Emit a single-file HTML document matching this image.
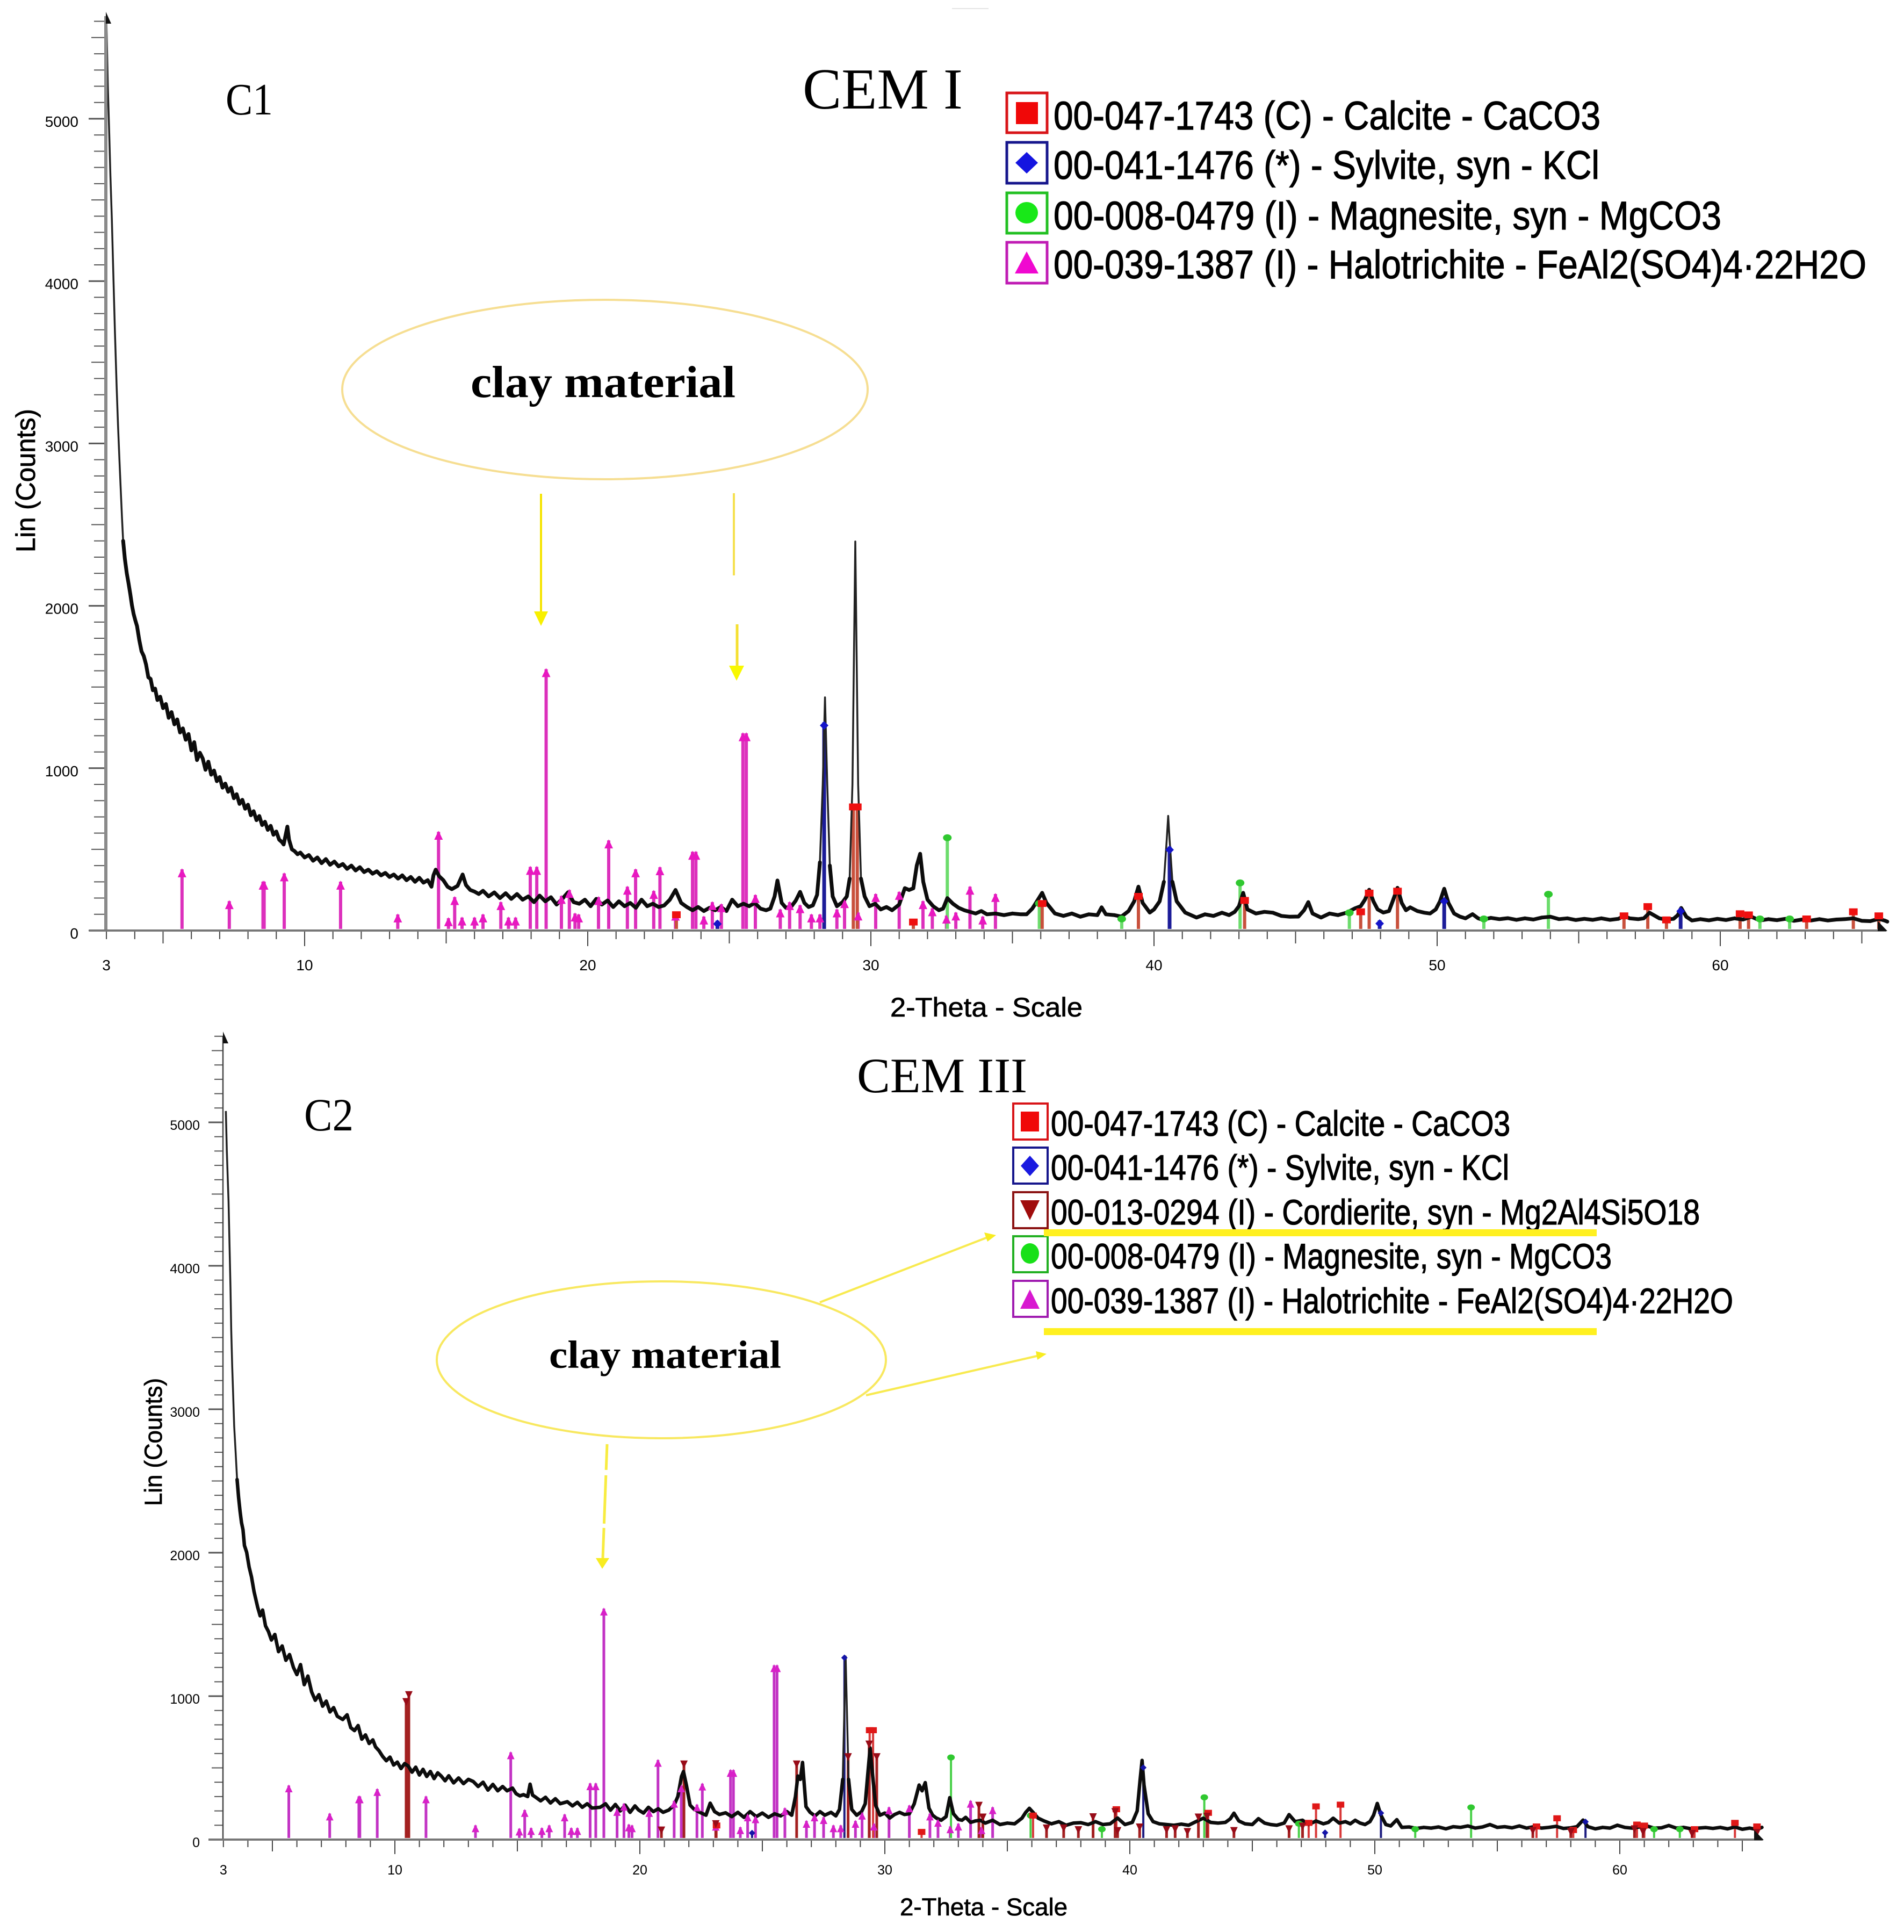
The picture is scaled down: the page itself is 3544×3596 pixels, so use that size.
<!DOCTYPE html>
<html lang="en">
<head>
<meta charset="utf-8">
<title>XRD patterns CEM I and CEM III</title>
<style>
html,body{margin:0;padding:0;background:#fff;}
svg{display:block;}
text{font-family:"Liberation Sans",sans-serif;fill:#000;}
.serif{font-family:"Liberation Serif",serif;}
.heavy{stroke:#000;stroke-width:1.3px;}
</style>
</head>
<body>
<svg id="figure" xmlns="http://www.w3.org/2000/svg" width="3544" height="3596" viewBox="0 0 3544 3596">
  <rect x="0" y="0" width="3544" height="3596" fill="#ffffff"/>
  <line x1="1772" y1="16" x2="1840" y2="16" stroke="#e4e4e4" stroke-width="2"/>

  <g id="chart1"></g>
  <g id="chart2"></g>

  <!-- Chart 1 annotations -->
  <text class="serif" x="420" y="213" font-size="84" textLength="88" lengthAdjust="spacingAndGlyphs">C1</text>
  <text class="serif" x="1494" y="202" font-size="108" textLength="298" lengthAdjust="spacingAndGlyphs">CEM I</text>

  <g>
    <g>
      <rect x="1874" y="173" width="75" height="74" fill="none" stroke="#d81418" stroke-width="5"/>
      <rect x="1891" y="190" width="41" height="41" fill="#f00808"/>
      <text class="heavy" x="1961" y="241" font-size="74" textLength="1018" lengthAdjust="spacingAndGlyphs">00-047-1743 (C) - Calcite - CaCO3</text>
    </g>
    <g>
      <rect x="1874" y="265" width="75" height="76" fill="none" stroke="#16168c" stroke-width="5"/>
      <polygon points="1911,283 1932,303 1911,323 1890,303" fill="#1414e0"/>
      <text class="heavy" x="1961" y="333" font-size="74" textLength="1016" lengthAdjust="spacingAndGlyphs">00-041-1476 (*) - Sylvite, syn - KCl</text>
    </g>
    <g>
      <rect x="1874" y="359" width="75" height="75" fill="none" stroke="#22c022" stroke-width="5"/>
      <ellipse cx="1911" cy="396" rx="21" ry="20" fill="#18e818"/>
      <text class="heavy" x="1961" y="427" font-size="74" textLength="1243" lengthAdjust="spacingAndGlyphs">00-008-0479 (I) - Magnesite, syn - MgCO3</text>
    </g>
    <g>
      <rect x="1874" y="451" width="75" height="76" fill="none" stroke="#c01cb4" stroke-width="5"/>
      <polygon points="1911,468 1933,509 1889,509" fill="#f008d0"/>
      <text class="heavy" x="1961" y="518" font-size="74" textLength="1513" lengthAdjust="spacingAndGlyphs">00-039-1387 (I) - Halotrichite - FeAl2(SO4)4·22H2O</text>
    </g>
  </g>

  <g>
    <ellipse cx="1126" cy="725" rx="489" ry="167" fill="none" stroke="#f6de92" stroke-width="4"/>
    <text class="serif" x="876" y="739" font-size="84" font-weight="bold" textLength="493" lengthAdjust="spacingAndGlyphs">clay material</text>
    <line x1="1007" y1="919" x2="1007" y2="1140" stroke="#f5e400" stroke-width="4"/>
    <polygon points="994,1138 1020,1138 1007,1165" fill="#f8f000"/>
    <line x1="1366" y1="918" x2="1366" y2="1071" stroke="#f5e050" stroke-width="4"/>
    <line x1="1372" y1="1162" x2="1372" y2="1241" stroke="#f5e030" stroke-width="5"/>
    <polygon points="1357,1239 1385,1239 1371,1267" fill="#f8f800"/>
  </g>

  <!-- Chart 2 annotations -->
  <text class="serif" x="566" y="2104" font-size="86" textLength="92" lengthAdjust="spacingAndGlyphs">C2</text>
  <text class="serif" x="1595" y="2033" font-size="92" textLength="317" lengthAdjust="spacingAndGlyphs">CEM III</text>

  <g>
    <g>
      <rect x="1886" y="2054" width="64" height="67" fill="none" stroke="#d81418" stroke-width="4"/>
      <rect x="1900" y="2069" width="34" height="37" fill="#f00808"/>
      <text class="heavy" x="1956" y="2114" font-size="66" textLength="855" lengthAdjust="spacingAndGlyphs">00-047-1743 (C) - Calcite - CaCO3</text>
    </g>
    <g>
      <rect x="1886" y="2136" width="64" height="67" fill="none" stroke="#16168c" stroke-width="4"/>
      <polygon points="1917,2151 1934,2170 1917,2189 1900,2170" fill="#1a1ae0"/>
      <text class="heavy" x="1956" y="2196" font-size="66" textLength="853" lengthAdjust="spacingAndGlyphs">00-041-1476 (*) - Sylvite, syn - KCl</text>
    </g>
    <g>
      <rect x="1886" y="2219" width="64" height="67" fill="none" stroke="#8c1414" stroke-width="4"/>
      <polygon points="1899,2234 1935,2234 1917,2271" fill="#a00c0c"/>
      <text class="heavy" x="1956" y="2279" font-size="66" textLength="1208" lengthAdjust="spacingAndGlyphs">00-013-0294 (I) - Cordierite, syn - Mg2Al4Si5O18</text>
    </g>
    <g>
      <rect x="1886" y="2301" width="64" height="67" fill="none" stroke="#22b022" stroke-width="4"/>
      <ellipse cx="1917" cy="2333" rx="17" ry="19" fill="#18e018"/>
      <text class="heavy" x="1956" y="2361" font-size="66" textLength="1044" lengthAdjust="spacingAndGlyphs">00-008-0479 (I) - Magnesite, syn - MgCO3</text>
    </g>
    <g>
      <rect x="1886" y="2384" width="64" height="67" fill="none" stroke="#a01cb0" stroke-width="4"/>
      <polygon points="1917,2400 1935,2436 1899,2436" fill="#d818d0"/>
      <text class="heavy" x="1956" y="2444" font-size="66" textLength="1270" lengthAdjust="spacingAndGlyphs">00-039-1387 (I) - Halotrichite - FeAl2(SO4)4·22H2O</text>
    </g>
  </g>
  <rect x="1943" y="2288" width="1029" height="13" fill="#fff020"/>
  <rect x="1943" y="2472" width="1029" height="13" fill="#fff020"/>

  <g>
    <ellipse cx="1231" cy="2531" rx="418" ry="146" fill="none" stroke="#f8e860" stroke-width="4"/>
    <text class="serif" x="1022" y="2546" font-size="73" font-weight="bold" textLength="432" lengthAdjust="spacingAndGlyphs">clay material</text>
    <line x1="1526" y1="2424" x2="1838" y2="2303" stroke="#f8ea50" stroke-width="4"/>
    <polygon points="1854,2299 1832,2294 1838,2311" fill="#f8ec20"/>
    <line x1="1612" y1="2597" x2="1934" y2="2523" stroke="#f8ea50" stroke-width="4"/>
    <polygon points="1948,2520 1928,2515 1931,2531" fill="#f8ec20"/>
    <line x1="1130" y1="2688" x2="1122" y2="2900" stroke="#f8ec40" stroke-width="5" stroke-dasharray="48 10 90 8 60 6"/>
    <polygon points="1109,2900 1134,2900 1121,2920" fill="#f8ec20"/>
  </g>
</svg>

<script>
// ---- Shared axis labels ----
const xTickLabels = [3, 10, 20, 30, 40, 50, 60];
const yTickLabels = [0, 1000, 2000, 3000, 4000, 5000];

// ---- Reference-card sticks (2-theta, counts) ----
const halotrichiteTheta = [5.67,7.34,8.53,8.57,9.28,11.27,13.29,14.73,15.08,15.3,15.56,16.0,16.3,16.93,17.2,17.45,17.97,18.2,18.53,19.07,19.35,19.55,19.68,20.38,20.74,21.4,21.69,22.33,22.55,23.1,23.7,23.82,24.1,24.4,24.72,25.48,25.6,25.92,26.8,27.13,27.5,27.9,28.2,28.8,29.07,29.55,30.17,31.0,31.84,32.17,32.67,33.0,33.5,33.95,34.4];
const halotrichiteCounts = [377,181,301,301,352,301,99,608,76,206,80,80,99,175,80,80,392,392,1610,213,250,105,99,206,555,270,377,244,390,110,485,485,86,175,162,1215,1215,219,130,175,156,99,99,130,187,111,225,238,181,137,92,111,270,86,225];

const calciteTheta = [23.13,29.38,29.52,31.5,36.05,39.45,43.2,47.3,47.6,48.6,56.6,57.44,58.1,60.7,61.0,63.05,64.7,65.6];
const calciteCounts = [112,776,776,67,181,225,200,130,245,257,105,162,80,118,111,86,130,105];

const sylviteTheta = [24.58,28.35,40.55,47.97,50.25,58.6];
const sylviteCounts = [61,1283,517,63,200,139];

const magnesiteTheta = [32.7,35.95,38.86,43.04,46.9,51.65,53.93,61.4,62.45];
const magnesiteCounts = [586,181,86,308,124,86,238,86,86];

const cordieriteTheta = [10.46,10.57,20.88,21.8,23.1,26.4,28.5,29.36,29.67,33.84,34.0,36.6,37.3,37.9,38.5,39.4,39.5,40.4,41.5,41.85,42.35,42.8,43.15,44.25,46.5,47.05,56.45,58.0,60.6,60.95,62.95,65.6];
const cordieriteCounts = [979,1027,84,544,128,544,595,683,595,256,174,98,98,86,176,212,80,105,86,92,73,174,180,80,92,111,80,73,92,73,60,67];

// ---- Measured pattern CEM I ----
const cem1Theta = [
3.00,3.05,3.10,3.14,3.19,3.25,3.30,3.36,3.41,3.46,
3.50,3.55,3.59,3.65,3.72,3.78,3.84,3.90,3.96,4.02,
4.08,4.16,4.24,4.32,4.40,4.48,4.56,4.64,4.72,4.80,
4.90,5.00,5.10,5.20,5.30,5.40,5.50,5.60,5.70,5.80,
5.90,6.00,6.10,6.20,6.30,6.40,6.50,6.60,6.70,6.80,
6.90,7.00,7.10,7.20,7.30,7.40,7.50,7.60,7.70,7.80,
7.90,8.00,8.10,8.20,8.30,8.40,8.50,8.60,8.70,8.80,
8.90,9.00,9.10,9.20,9.26,9.39,9.45,9.55,9.64,9.75,
9.85,10.0,10.15,10.3,10.45,10.6,10.75,10.9,11.05,11.2,
11.35,11.5,11.65,11.8,11.95,12.1,12.25,12.4,12.55,12.7,
12.85,13.0,13.15,13.3,13.45,13.6,13.75,13.9,14.05,14.2,
14.35,14.48,14.55,14.63,14.75,14.9,15.05,15.2,15.4,15.58,
15.7,15.85,16.0,16.15,16.3,16.5,16.7,16.9,17.1,17.3,
17.5,17.7,17.9,18.1,18.3,18.5,18.7,18.9,19.1,19.3,
19.5,19.7,19.9,20.1,20.3,20.5,20.7,20.9,21.1,21.3,
21.5,21.7,21.9,22.1,22.3,22.5,22.7,22.9,23.1,23.3,
23.5,23.7,23.9,24.1,24.3,24.5,24.7,24.9,25.1,25.3,
25.5,25.7,25.9,26.1,26.3,26.45,26.6,26.7,26.85,27.0,
27.2,27.35,27.5,27.65,27.8,27.95,28.1,28.2,28.3,28.38,
28.46,28.55,28.65,28.8,29.0,29.15,29.25,29.35,29.45,29.55,
29.65,29.78,29.95,30.15,30.35,30.55,30.75,31.0,31.2,31.35,
31.5,31.62,31.74,31.85,32.0,32.2,32.4,32.55,32.7,32.9,
33.1,33.3,33.5,33.7,33.9,34.1,34.4,34.7,35.0,35.3,
35.5,35.7,35.9,36.05,36.2,36.5,36.8,37.1,37.4,37.7,
38.0,38.15,38.3,38.6,38.85,39.1,39.3,39.45,39.6,39.85,
40.0,40.2,40.35,40.45,40.5,40.55,40.65,40.8,41.1,41.5,
41.8,42.1,42.4,42.65,42.85,43.0,43.15,43.3,43.6,43.9,
44.2,44.5,44.8,45.1,45.3,45.45,45.6,45.9,46.2,46.5,
46.8,47.1,47.3,47.45,47.6,47.75,47.9,48.1,48.3,48.45,
48.6,48.75,48.9,49.05,49.3,49.55,49.75,49.95,50.1,50.25,
50.4,50.6,50.8,51.0,51.25,51.45,51.6,51.9,52.2,52.5,
52.8,53.1,53.4,53.7,54.0,54.3,54.6,54.9,55.2,55.5,
55.8,56.1,56.4,56.6,56.8,57.1,57.3,57.5,57.65,57.85,
58.1,58.35,58.5,58.62,58.8,59.0,59.3,59.6,59.9,60.2,
60.5,60.8,61.1,61.4,61.7,62.0,62.3,62.6,62.9,63.2,
63.5,63.8,64.1,64.4,64.7,65.0,65.3,65.6,65.8,65.9
];
const cem1Counts = [
5600,5200,4900,4650,4390,4000,3690,3350,3110,2900,
2740,2540,2400,2290,2200,2140,2075,2005,1950,1910,
1876,1790,1720,1690,1638,1560,1550,1480,1490,1420,
1440,1370,1395,1310,1345,1270,1300,1220,1245,1175,
1210,1110,1160,1050,1095,1060,990,1040,960,985,
920,945,880,905,855,880,815,840,780,805,
750,775,710,735,680,705,650,670,620,645,
590,610,560,545,530,640,560,500,490,470,
480,450,465,430,450,415,440,405,425,395,
410,380,400,370,390,360,375,350,365,340,
355,330,345,320,340,310,330,300,325,295,
310,270,340,375,335,310,270,255,275,345,
280,250,240,225,245,210,235,200,230,195,
225,190,210,175,215,180,205,160,195,235,
175,165,190,150,195,160,185,145,180,150,
170,140,190,150,165,145,155,190,250,170,
145,125,145,120,140,125,145,120,190,150,
165,150,170,135,125,135,210,308,170,140,
150,185,238,170,145,155,220,420,900,1436,
900,400,210,150,175,210,320,900,2396,900,
320,210,150,165,130,145,125,160,261,250,
260,400,473,300,190,150,125,135,200,165,
140,125,115,105,120,100,105,95,105,100,
100,135,190,232,170,105,90,105,85,100,
95,143,100,95,86,120,180,270,170,111,
130,180,300,560,706,560,300,180,111,80,
100,90,110,95,115,150,232,130,105,115,
110,90,85,86,125,175,105,80,105,95,
110,137,150,190,251,180,130,111,120,190,
263,170,125,143,120,110,105,130,180,257,
170,105,86,75,101,75,67,78,70,76,
66,75,68,80,85,70,75,65,72,66,
75,66,72,90,75,70,75,110,95,75,
68,72,95,139,85,62,70,63,72,65,
75,68,85,62,70,64,72,60,68,62,
70,62,68,70,75,60,58,72,62,55
];

// ---- Measured pattern CEM III ----
const cem3Theta = [
3.10,3.14,3.18,3.21,3.25,3.29,3.32,3.36,3.40,3.44,
3.50,3.56,3.62,3.68,3.74,3.80,3.86,3.95,4.05,4.15,
4.25,4.40,4.50,4.60,4.72,4.84,4.96,5.10,5.25,5.40,
5.55,5.70,5.86,6.00,6.15,6.30,6.45,6.60,6.75,6.90,
7.05,7.20,7.35,7.50,7.65,7.87,8.05,8.20,8.35,8.50,
8.65,8.80,8.95,9.10,9.21,9.35,9.50,9.65,9.80,9.95,
10.1,10.25,10.4,10.55,10.7,10.85,11.0,11.15,11.3,11.45,
11.6,11.75,11.89,12.05,12.2,12.4,12.6,12.8,13.0,13.2,
13.4,13.6,13.8,14.0,14.2,14.4,14.58,14.8,14.95,15.1,
15.25,15.42,15.52,15.62,15.75,15.95,16.15,16.35,16.55,16.75,
17.04,17.25,17.45,17.65,17.85,18.05,18.38,18.6,18.8,19.0,
19.2,19.4,19.6,19.8,19.95,20.15,20.35,20.55,20.75,20.95,
21.18,21.4,21.55,21.7,21.78,21.9,22.05,22.2,22.45,22.7,
22.87,23.05,23.25,23.5,23.75,24.0,24.25,24.5,24.75,25.0,
25.25,25.5,25.75,26.0,26.2,26.35,26.45,26.55,26.64,26.78,
26.95,27.15,27.35,27.55,27.8,28.0,28.15,28.28,28.4,28.52,
28.65,28.85,29.05,29.2,29.3,29.4,29.5,29.62,29.8,30.0,
30.2,30.4,30.6,30.8,31.0,31.2,31.4,31.52,31.65,31.8,
31.95,32.1,32.3,32.5,32.65,32.8,33.0,33.15,33.3,33.5,
33.7,33.9,34.1,34.4,34.7,35.0,35.3,35.6,35.75,35.9,
36.05,36.25,36.5,36.8,37.1,37.4,37.7,38.0,38.3,38.6,
38.9,39.2,39.5,39.8,40.1,40.3,40.42,40.5,40.58,40.75,
40.95,41.2,41.5,41.8,42.1,42.4,42.7,43.0,43.3,43.6,
43.9,44.1,44.25,44.45,44.7,45.0,45.25,45.5,45.75,46.0,
46.3,46.5,46.75,47.05,47.3,47.6,47.9,48.1,48.3,48.55,
48.8,49.0,49.2,49.4,49.6,49.8,49.95,50.1,50.25,50.45,
50.65,50.9,51.1,51.4,51.7,52.0,52.3,52.6,52.9,53.2,
53.5,53.8,54.1,54.4,54.7,55.0,55.3,55.6,55.9,56.2,
56.5,56.8,57.1,57.4,57.7,58.0,58.25,58.5,58.7,59.0,
59.3,59.6,59.9,60.2,60.5,60.8,61.1,61.4,61.7,62.0,
62.3,62.6,62.9,63.2,63.5,63.8,64.1,64.4,64.7,65.0,
65.3,65.6,65.8
];
const cem3Counts = [
5079,4800,4600,4449,4150,3850,3551,3300,3100,2882,
2700,2510,2385,2290,2210,2160,2050,2003,1900,1830,
1730,1620,1560,1600,1490,1450,1391,1430,1310,1350,
1250,1290,1200,1150,1220,1080,1140,1030,971,1010,
930,965,890,920,860,837,870,780,760,795,
700,730,670,695,646,620,580,550,575,520,
540,495,530,512,470,505,450,490,440,475,
425,465,443,410,445,395,430,390,420,405,
370,400,345,385,340,370,340,359,320,305,
313,300,386,310,295,270,295,255,285,250,
264,235,260,225,250,220,225,250,205,245,
200,240,190,235,206,185,225,195,215,190,
206,240,300,440,474,380,240,214,190,170,
254,195,175,187,160,190,155,195,160,185,
155,180,165,195,170,300,443,420,538,230,
190,165,195,170,190,165,210,420,1276,420,
210,170,195,250,450,639,450,240,170,185,
150,175,190,175,180,250,380,340,397,220,
170,150,135,160,292,180,140,135,155,120,
130,135,115,135,105,115,110,150,190,218,
190,150,130,110,125,100,115,118,105,125,
105,110,150,105,120,200,420,552,380,180,
125,110,105,100,108,100,125,149,120,115,
120,145,184,130,110,105,146,115,105,100,
115,174,125,135,105,130,110,120,149,115,
125,110,135,115,105,125,170,252,170,105,
95,139,85,88,78,85,80,88,75,90,
85,95,80,88,105,85,90,82,95,80,
90,80,85,92,78,82,90,136,90,75,
85,80,100,85,80,88,95,80,82,98,
80,85,76,80,84,78,85,75,88,72,
80,70,85
];

const NS = 'http://www.w3.org/2000/svg';

function make(parent, tag, attrs) {
  const el = document.createElementNS(NS, tag);
  for (const k in attrs) el.setAttribute(k, attrs[k]);
  parent.appendChild(el);
  return el;
}

function markerShape(parent, kind, cx, top, size, color) {
  let el;
  if (kind === 'triangle-up') {
    el = make(parent, 'polygon', {points: (cx)+','+(top)+' '+(cx+size)+','+(top+size*2.1)+' '+(cx-size)+','+(top+size*2.1), fill: color});
  } else if (kind === 'triangle-down') {
    el = make(parent, 'polygon', {points: (cx-size)+','+(top)+' '+(cx+size)+','+(top)+' '+(cx)+','+(top+size*2.1), fill: color});
  } else if (kind === 'square') {
    el = make(parent, 'rect', {x: cx-size, y: top, width: size*2, height: size*1.6, fill: color});
  } else if (kind === 'diamond') {
    el = make(parent, 'polygon', {points: (cx)+','+(top)+' '+(cx+size)+','+(top+size)+' '+(cx)+','+(top+size*2)+' '+(cx-size)+','+(top+size), fill: color});
  } else {
    el = make(parent, 'ellipse', {cx: cx, cy: top+size*0.8, rx: size, ry: size*0.8, fill: color});
  }
  return el;
}

function drawPhase(stickLayer, markerLayer, phase, xScale, yScale, baseY) {
  phase.theta.forEach(function (t, i) {
    const c = phase.counts[i];
    const line = make(stickLayer, 'line', {x1: xScale(t), x2: xScale(t), y1: yScale(c), y2: baseY, stroke: phase.stick, 'stroke-width': phase.width});
    
    
    const m = markerShape(markerLayer, phase.kind, xScale(t), yScale(c) - 2, phase.size, phase.color);
    
    
  });
}

function drawChart(cfg) {
  const root = document.getElementById(cfg.id);
  const xScale = function (t) { return cfg.x10 + cfg.pxPerDeg * (t - 10); };
  const yScale = function (c) { return cfg.y0 - cfg.pxPerCount * c; };

  const stickLayer = make(root, 'g', {});
  
  
  const curveLayer = make(root, 'g', {});
  
  
  const markerLayer = make(root, 'g', {});
  
  
  const axisLayer = make(root, 'g', {});
  
  

  // y axis ticks
  for (let v = 0; v <= 5600; v += 100) {
    const len = v % 1000 === 0 ? cfg.yTickLong : (v % 500 === 0 ? cfg.yTickMid : cfg.yTickShort);
    const t = make(axisLayer, 'line', {x1: cfg.axisX - len, x2: cfg.axisX, y1: yScale(v), y2: yScale(v), stroke: '#555', 'stroke-width': v % 1000 === 0 ? 3 : 2});
    
    
  }
  yTickLabels.forEach(function (v) {
    const l = make(axisLayer, 'text', {x: cfg.yLabelX, y: yScale(v) + cfg.yLabelDy, 'font-size': cfg.tickFont, 'text-anchor': 'end'});
    l.textContent = String(v);
    
    
  });

  // x axis ticks
  for (let d = 3; d <= 65; d++) {
    const len = d % 10 === 0 ? cfg.xTickLong : (d % 5 === 0 ? cfg.xTickMid : cfg.xTickShort);
    const t = make(axisLayer, 'line', {x1: xScale(d), x2: xScale(d), y1: cfg.y0, y2: cfg.y0 + len, stroke: '#444', 'stroke-width': 2});
    
    
  }
  xTickLabels.forEach(function (d) {
    const l = make(axisLayer, 'text', {x: xScale(d), y: cfg.xLabelY, 'font-size': cfg.tickFont, 'text-anchor': 'middle'});
    l.textContent = String(d);
    
    
  });

  // phases
  cfg.phases.forEach(function (p) { drawPhase(stickLayer, markerLayer, p, xScale, yScale, cfg.y0 - cfg.stickGap); });

  // pattern curve: thin line for sharp peaks, thicker band where the noisy background runs
  let d = '';
  let band = '';
  cfg.theta.forEach(function (t, i) {
    const px = xScale(t).toFixed(1);
    const py = yScale(cfg.counts[i]).toFixed(1);
    d += (i ? 'L' : 'M') + px + ' ' + py;
    if (i > 0) {
      const slope = Math.abs(cfg.counts[i] - cfg.counts[i - 1]) / (t - cfg.theta[i - 1]);
      if (slope < cfg.bandSlope) {
        band += 'M' + xScale(cfg.theta[i - 1]).toFixed(1) + ' ' + yScale(cfg.counts[i - 1]).toFixed(1) + 'L' + px + ' ' + py;
      }
    }
  });
  const curve = make(curveLayer, 'path', {d: d, fill: 'none', stroke: '#222', 'stroke-width': cfg.curveWidth, 'stroke-linejoin': 'round'});
  
  
  const bandPath = make(curveLayer, 'path', {d: band, fill: 'none', stroke: '#0c0c0c', 'stroke-width': cfg.bandWidth, 'stroke-linejoin': 'round', 'stroke-linecap': 'round'});
  
  

  // axis lines
  const yAxis = make(axisLayer, 'line', {x1: cfg.axisX, x2: cfg.axisX, y1: cfg.y0, y2: cfg.axisTop, stroke: cfg.yAxisColor, 'stroke-width': cfg.yAxisWidth});
  
  
  const xAxis = make(axisLayer, 'line', {x1: cfg.xAxisStart, x2: cfg.xAxisEnd, y1: cfg.y0, y2: cfg.y0, stroke: '#777', 'stroke-width': 4});
  
  
  const topArrow = make(axisLayer, 'polygon', {points: cfg.axisX + ',' + (cfg.axisTop - 8) + ' ' + (cfg.axisX + 10) + ',' + (cfg.axisTop + 14) + ' ' + cfg.axisX + ',' + (cfg.axisTop + 14), fill: '#111'});
  
  
  const endArrow = make(axisLayer, 'polygon', {points: (cfg.xAxisEnd - 16) + ',' + (cfg.y0 - 18) + ' ' + (cfg.xAxisEnd + 2) + ',' + (cfg.y0 + 1) + ' ' + (cfg.xAxisEnd - 16) + ',' + (cfg.y0 + 1), fill: '#111'});
  
  

  // axis titles
  const xt = make(axisLayer, 'text', {x: cfg.xTitleX, y: cfg.xTitleY, 'font-size': cfg.titleFont, textLength: cfg.xTitleLen, lengthAdjust: 'spacingAndGlyphs', stroke: '#000', 'stroke-width': 0.8});
  xt.textContent = '2-Theta - Scale';
  
  
  const yt = make(axisLayer, 'text', {x: 0, y: 0, 'font-size': cfg.titleFont, textLength: cfg.yTitleLen, lengthAdjust: 'spacingAndGlyphs', stroke: '#000', 'stroke-width': 0.8, transform: 'translate(' + cfg.yTitleX + ',' + cfg.yTitleBottom + ') rotate(-90)'});
  yt.textContent = 'Lin (Counts)';
  
  
}

drawChart({
  id: 'chart1', x10: 567, pxPerDeg: 52.7, y0: 1732, pxPerCount: 0.3022,
  axisX: 197, axisTop: 30, yAxisColor: '#8a8a8a', yAxisWidth: 6,
  xAxisStart: 166, xAxisEnd: 3511,
  yTickShort: 22, yTickMid: 27, yTickLong: 32, xTickShort: 16, xTickMid: 24, xTickLong: 29,
  yLabelX: 146, yLabelDy: 15, xLabelY: 1806, tickFont: 28,
  stickGap: 3, curveWidth: 3.5, bandWidth: 7, bandSlope: 2500,
  xTitleX: 1657, xTitleY: 1892, xTitleLen: 358,
  yTitleX: 65, yTitleBottom: 1028, yTitleLen: 267, titleFont: 50,
  theta: cem1Theta, counts: cem1Counts,
  phases: [
    {name: 'halotrichite', theta: halotrichiteTheta, counts: halotrichiteCounts, kind: 'triangle-up', stick: '#dc30bc', color: '#e818c0', width: 6, size: 8},
    {name: 'magnesite', theta: magnesiteTheta, counts: magnesiteCounts, kind: 'circle', stick: '#6cdc6c', color: '#30c830', width: 6, size: 8},
    {name: 'calcite', theta: calciteTheta, counts: calciteCounts, kind: 'square', stick: '#c8503c', color: '#ee1010', width: 6, size: 8},
    {name: 'sylvite', theta: sylviteTheta, counts: sylviteCounts, kind: 'diamond', stick: '#1c1c98', color: '#1414c8', width: 7, size: 8}
  ]
});

drawChart({
  id: 'chart2', x10: 735, pxPerDeg: 45.6, y0: 3424, pxPerCount: 0.267,
  axisX: 415, axisTop: 1928, yAxisColor: '#444', yAxisWidth: 2.5,
  xAxisStart: 388, xAxisEnd: 3281,
  yTickShort: 16, yTickMid: 21, yTickLong: 27, xTickShort: 14, xTickMid: 22, xTickLong: 27,
  yLabelX: 372, yLabelDy: 14, xLabelY: 3489, tickFont: 25,
  stickGap: 3, curveWidth: 3.5, bandWidth: 6.5, bandSlope: 2500,
  xTitleX: 1675, xTitleY: 3565, xTitleLen: 312,
  yTitleX: 301, yTitleBottom: 2803, yTitleLen: 238, titleFont: 45,
  theta: cem3Theta, counts: cem3Counts,
  phases: [
    {name: 'halotrichite', theta: halotrichiteTheta, counts: halotrichiteCounts, kind: 'triangle-up', stick: '#c232c4', color: '#d820c8', width: 5, size: 7},
    {name: 'magnesite', theta: magnesiteTheta, counts: magnesiteCounts, kind: 'circle', stick: '#48d048', color: '#30c830', width: 4, size: 7},
    {name: 'calcite', theta: calciteTheta, counts: calciteCounts, kind: 'square', stick: '#d83838', color: '#e01818', width: 4, size: 7},
    {name: 'cordierite', theta: cordieriteTheta, counts: cordieriteCounts, kind: 'triangle-down', stick: '#a32020', color: '#980c18', width: 5, size: 7},
    {name: 'sylvite', theta: sylviteTheta, counts: sylviteCounts, kind: 'diamond', stick: '#1c1c80', color: '#1414a8', width: 4, size: 6}
  ]
});
</script>
</body>
</html>
